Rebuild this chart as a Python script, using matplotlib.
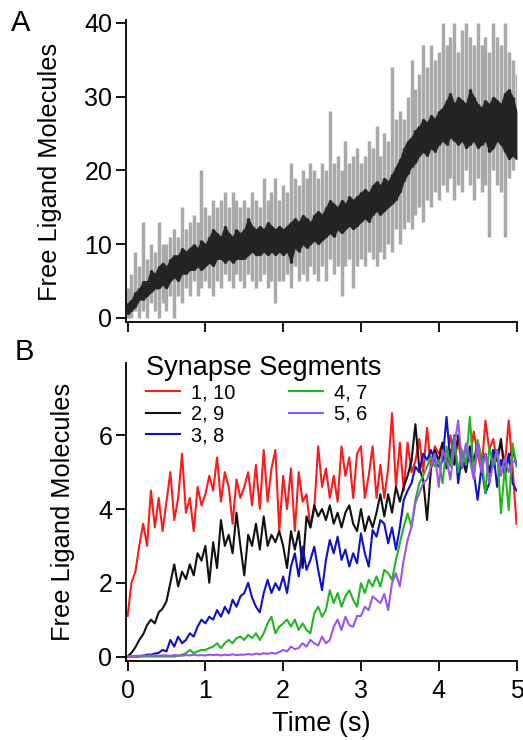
import numpy as np
import matplotlib
matplotlib.use("Agg")
import matplotlib.pyplot as plt

plt.rcParams["font.family"] = ["Liberation Sans", "DejaVu Sans"]

# time base for both panels (s), sampled every 0.05 s
TIME_S = np.round(np.arange(0, 5.0001, 0.05), 2)

# ---- panel A: total free ligand, single run (grey) and mean (black) ----
# each trace stored as its low / high excursion at every sample
single_lo = [0, 0, 1, 0, 1, 0, 2, 1, 0, 2,
             1, 3, 0, 3, 2, 4, 3, 5, 3, 4,
             5, 4, 3, 5, 4, 6, 5, 4, 6, 5,
             4, 6, 5, 4, 5, 6, 4, 5, 2, 5,
             5, 6, 4, 7, 5, 6, 5, 7, 6, 5,
             7, 5, 8, 6, 7, 3, 7, 8, 4, 7,
             8, 7, 9, 8, 7, 9, 8, 10, 9, 12,
             10, 12, 13, 12, 14, 15, 13, 16, 15, 17,
             16, 18, 17, 19, 16, 18, 17, 20, 18, 16,
             19, 17, 18, 11, 20, 18, 17, 11, 19, 20,
             22]
single_hi = [4, 6, 9, 7, 13, 8, 10, 9, 13, 10,
             10, 11, 12, 11, 15, 12, 13, 14, 13, 20,
             15, 14, 16, 15, 16, 17, 15, 17, 16, 15,
             16, 15, 17, 16, 15, 19, 16, 17, 19, 16,
             18, 17, 21, 19, 18, 20, 19, 21, 20, 19,
             21, 20, 28, 21, 22, 20, 24, 21, 22, 23,
             21, 22, 24, 23, 26, 22, 25, 24, 34, 27,
             28, 27, 30, 35, 31, 33, 37, 34, 37, 35,
             36, 40, 37, 38, 40, 36, 39, 40, 38, 37,
             40, 37, 38, 36, 40, 38, 37, 40, 36, 35,
             33]
mean_lo = [0.5, 1.0, 1.5, 2.5, 2.5, 3.0, 3.5, 4.0, 4.0, 4.5,
           4.0, 5.0, 5.5, 5.0, 6.0, 6.0, 6.5, 6.5, 7.0, 6.5,
           7.0, 7.5, 7.0, 8.0, 8.0, 7.5, 8.0, 7.5, 8.0, 8.0,
           8.0, 8.5, 9.0, 8.5, 8.5, 9.0, 8.5, 9.0, 8.5, 9.0,
           8.5, 9.0, 7.5, 9.5, 9.0, 10.0, 9.5, 10.0, 10.5, 10.0,
           10.5, 11.0, 11.5, 11.0, 12.0, 11.5, 12.0, 12.5, 12.0, 12.5,
           13.0, 13.5, 13.0, 14.0, 14.5, 14.0, 14.5, 15.0, 15.5, 16.0,
           17.0, 18.5, 19.5, 20.5, 21.0, 22.0, 22.5, 22.0, 23.0, 22.5,
           23.5, 24.0, 23.5, 24.5, 24.0, 23.5, 24.0, 23.0, 23.5, 24.0,
           23.0, 23.5, 24.0, 22.5, 23.0, 24.0, 23.5, 22.5, 21.5, 22.0,
           21.5]
mean_hi = [2.0, 2.5, 3.5, 4.0, 5.0, 5.0, 6.5, 6.0, 7.0, 7.5,
           7.0, 8.0, 8.5, 8.5, 9.5, 9.0, 9.5, 10.0, 9.5, 10.5,
           10.0, 11.0, 12.0, 11.5, 11.0, 12.5, 11.5, 11.0, 12.0, 11.5,
           12.0, 13.5, 12.5, 12.0, 12.5, 12.0, 13.0, 12.5, 12.0, 12.5,
           12.0, 12.5, 13.0, 13.5, 13.0, 14.0, 13.5, 13.0, 14.0, 14.5,
           14.0, 15.0, 16.0, 15.5, 15.0, 16.0, 15.5, 16.5, 16.0, 16.5,
           17.0, 17.5, 17.0, 18.0, 18.5, 18.0, 19.0, 18.5, 19.5, 20.5,
           21.5, 23.0, 24.0, 24.5, 25.5, 26.0, 27.0, 26.5, 27.5, 27.0,
           28.0, 28.5, 29.5, 30.5, 29.0, 30.0, 29.5, 29.0, 31.0, 30.0,
           29.0, 28.5, 29.5, 29.0, 30.0, 29.5, 29.0, 30.5, 31.0, 30.0,
           28.0]

# ---- panel B: free ligand per synapse segment pair ----
SEGMENT_LABELS = ["1, 10", "2, 9", "3, 8", "4, 7", "5, 6"]
SEGMENT_COLORS = ["#ff1a1a", "#111111", "#1010c8", "#22b522", "#9a55ee"]
seg_1_10 = [1.1, 2.0, 2.3, 3.0, 3.6, 3.0, 4.5, 3.5, 4.3, 3.4,
            4.2, 5.0, 3.7, 4.3, 5.5, 3.9, 4.3, 3.4, 4.6, 4.1,
            4.4, 4.9, 4.5, 5.4, 4.2, 5.0, 4.6, 3.6, 4.8, 4.3,
            4.6, 5.0, 4.1, 5.2, 4.0, 5.6, 4.2, 5.1, 5.6, 3.4,
            4.9, 4.0, 5.1, 3.4, 5.0, 4.2, 4.4, 3.5, 4.0, 5.7,
            4.6, 5.1, 4.3, 4.9, 4.2, 5.7, 4.9, 5.4, 4.3, 5.5,
            5.7, 4.3, 4.9, 5.7, 4.3, 5.2, 4.3, 5.1, 6.6, 4.6,
            5.8, 4.5, 5.8, 5.0, 5.3, 5.9, 5.0, 6.2, 5.1, 5.7,
            5.5, 5.8, 5.2, 6.0, 5.4, 5.9, 5.1, 5.7, 5.3, 6.1,
            5.5, 5.0, 6.4, 5.6, 5.9, 5.3, 5.8, 5.2, 6.4, 5.1,
            3.6]
seg_2_9 = [0.0, 0.1, 0.25, 0.45, 0.6, 0.85, 1.0, 0.9, 1.2, 1.3,
           1.5, 2.0, 2.5, 1.9, 2.3, 2.1, 2.5, 2.2, 2.8, 2.6,
           3.0, 2.0, 3.1, 2.4, 3.7, 3.0, 3.3, 2.8, 3.9, 3.0,
           2.2, 3.3, 3.0, 3.6, 2.9, 3.8, 3.0, 3.3, 3.1, 3.4,
           3.0, 2.4, 3.4, 2.9, 3.4, 2.4, 3.8, 3.5, 4.1, 3.8,
           4.0, 3.7, 4.1, 3.6, 3.9, 3.5, 3.9, 4.1, 3.6, 3.4,
           4.0, 3.4, 3.8, 3.5, 3.9, 4.4, 3.8, 4.4, 3.9, 4.6,
           4.2, 4.6, 4.9, 5.3, 6.3, 5.1, 4.8, 3.7, 5.1, 5.6,
           5.3, 5.8, 5.1, 5.6, 5.2, 6.0, 5.4, 5.0, 5.7, 5.3,
           5.8, 5.2, 5.5, 5.0, 5.6, 5.3, 5.9, 4.9, 5.4, 5.6,
           5.2]
seg_3_8 = [0, 0, 0, 0, 0.02, 0.05, 0.05, 0.08, 0.1, 0.18,
           0.14, 0.45, 0.27, 0.54, 0.36, 0.45, 0.63, 0.54, 0.81, 1.0,
           0.9, 1.08, 1.0, 1.26, 1.08, 1.35, 1.17, 1.54, 1.35, 1.63,
           1.72, 2.0, 1.6, 1.35, 1.2, 1.72, 2.08, 1.72, 1.99, 1.8,
           2.17, 1.72, 2.44, 2.8, 2.17, 2.98, 2.35, 2.62, 2.98, 2.35,
           1.8, 2.62, 3.16, 2.8, 3.25, 2.62, 2.9, 2.44, 2.8, 2.53,
           3.34, 2.8, 2.44, 3.43, 3.25, 3.7, 3.6, 3.07, 3.5, 2.9,
           3.5, 4.25, 4.5, 4.7, 5.15, 5.0, 5.5, 5.33, 5.6, 5.3,
           5.15, 5.3, 6.5, 5.3, 6.0, 4.7, 5.5, 5.15, 5.6, 5.0,
           4.25, 5.15, 4.43, 4.7, 5.6, 4.6, 5.33, 4.9, 5.5, 4.7,
           4.5]
seg_4_7 = [0, 0, 0, 0, 0, 0, 0, 0, 0, 0,
           0, 0, 0, 0.02, 0.05, 0.09, 0.18, 0.09, 0.14, 0.18,
           0.18, 0.23, 0.27, 0.36, 0.23, 0.36, 0.45, 0.36, 0.5, 0.54,
           0.45, 0.59, 0.5, 0.63, 0.45, 0.63, 0.9, 1.08, 0.63, 0.81,
           0.9, 1.0, 0.81, 1.0, 0.72, 0.9, 0.72, 0.63, 1.17, 1.35,
           1.08, 1.26, 1.8, 1.45, 1.72, 1.35, 1.63, 1.8, 1.54, 1.35,
           1.99, 1.72, 2.08, 1.9, 2.17, 1.9, 2.35, 2.26, 2.08, 2.62,
           3.07, 3.52, 3.88, 3.52, 4.25, 4.7, 4.9, 5.15, 5.42, 5.15,
           5.33, 4.7, 5.7, 5.15, 5.96, 5.0, 5.6, 5.2, 6.5, 4.88,
           5.87, 5.42, 4.43, 5.7, 5.15, 5.6, 3.88, 5.15, 3.97, 5.78,
           5.15]
seg_5_6 = [0, 0.01, 0.02, 0.02, 0.03, 0.02, 0.03, 0.04, 0.02, 0.03,
           0.03, 0.02, 0.04, 0.03, 0.02, 0.04, 0.03, 0.05, 0.03, 0.04,
           0.03, 0.05, 0.04, 0.05, 0.03, 0.05, 0.04, 0.06, 0.04, 0.05,
           0.05, 0.07, 0.05, 0.08, 0.06, 0.09, 0.07, 0.1, 0.08, 0.12,
           0.18, 0.14, 0.27, 0.2, 0.23, 0.36, 0.27, 0.45, 0.36, 0.3,
           0.54, 0.36, 0.45, 0.81, 1.0, 0.72, 1.08, 0.85, 0.81, 1.1,
           1.1, 1.35, 1.26, 1.63, 1.54, 1.45, 1.7, 1.26, 2.0, 2.26,
           1.9, 2.62, 3.16, 3.52, 4.16, 4.43, 4.7, 4.8, 5.15, 5.5,
           4.6, 5.6, 5.33, 4.8, 5.7, 6.4, 5.15, 5.78, 5.33, 4.8,
           5.78, 5.0, 5.5, 4.7, 5.24, 5.6, 4.9, 5.4, 5.0, 5.3,
           5.24]
SEGMENTS = [seg_1_10, seg_2_9, seg_3_8, seg_4_7, seg_5_6]

GREY = "#a9a9a9"
DARK = "#242424"


def style_axes(ax):
    for side in ("top", "right"):
        ax.spines[side].set_visible(False)
    for side in ("left", "bottom"):
        ax.spines[side].set_linewidth(1.3)
    ax.tick_params(direction="out", length=7, width=1.3, labelsize=18, pad=3)
    ax.tick_params(axis="x", pad=6)


fig = plt.figure(figsize=(5.23, 7.40), dpi=100)
ax_a = fig.add_axes([0.241, 0.5643, 0.7466, 0.408])
ax_b = fig.add_axes([0.241, 0.1068, 0.7466, 0.4027])

# panel A: grey single run as per-sample strokes, black mean band on top
ax_a.vlines(TIME_S, single_lo, single_hi, color=GREY, lw=2.5, zorder=2)
ax_a.vlines(TIME_S, mean_lo, mean_hi, color=DARK, lw=2.5, zorder=3)
ax_a.fill_between(TIME_S, mean_lo, mean_hi, color=DARK, lw=0.6,
                  edgecolor=DARK, zorder=3)
ax_a.set_xlim(-0.02, 5.0)
ax_a.set_ylim(-0.6, 40.3)
ax_a.set_xticks(range(6))
ax_a.set_xticklabels([])
ax_a.set_yticks([0, 10, 20, 30, 40])
ax_a.set_ylabel("Free Ligand Molecules", fontsize=18.3)
ax_a.yaxis.set_label_coords(-0.164, 0.5)
style_axes(ax_a)

# panel B
for vals, lab, col in zip(SEGMENTS, SEGMENT_LABELS, SEGMENT_COLORS):
    ax_b.plot(TIME_S, vals, color=col, lw=1.5, label=lab)
ax_b.set_xlim(-0.02, 5.0)
ax_b.set_ylim(-0.12, 7.96)
ax_b.set_xticks(range(6))
ax_b.set_yticks([0, 2, 4, 6])
ax_b.set_xlabel("Time (s)", fontsize=19.5, labelpad=6)
ax_b.set_ylabel("Free Ligand Molecules", fontsize=18.3)
ax_b.yaxis.set_label_coords(-0.131, 0.5)
style_axes(ax_b)

ax_b.legend(ncol=2, title="Synapse Segments", title_fontsize=19.5, fontsize=14.4,
            frameon=False, loc="upper left", alignment="left",
            bbox_to_anchor=(146 / 523, 1 - 355 / 740), bbox_transform=fig.transFigure,
            borderpad=0, borderaxespad=0, handlelength=1.7, handletextpad=0.55,
            labelspacing=0.12, columnspacing=2.7)

fig.text(21 / 523, 1 - 23 / 740, "A", ha="center", va="center", fontsize=21)
fig.text(24 / 523, 1 - 352 / 740, "B", ha="center", va="center", fontsize=21)

fig.savefig("out.png", dpi=100)
